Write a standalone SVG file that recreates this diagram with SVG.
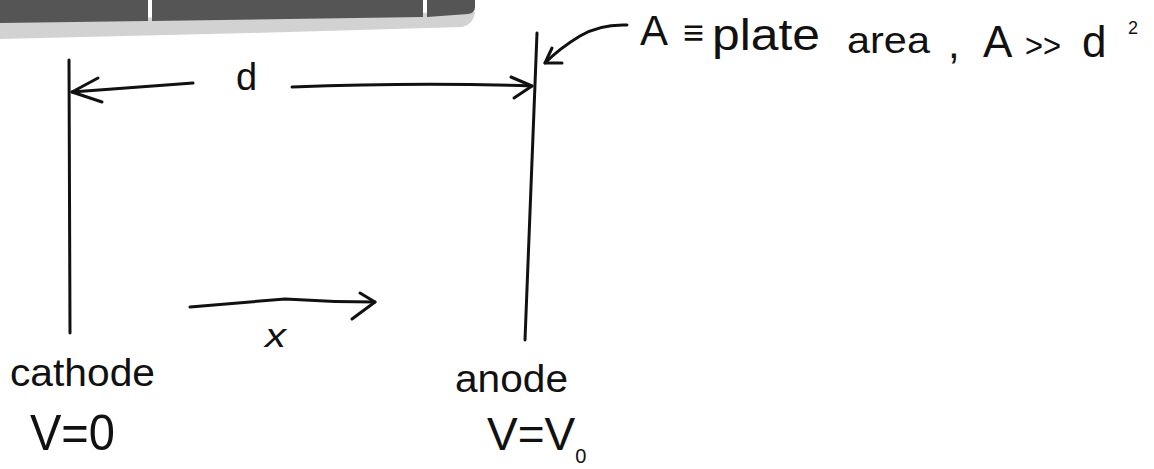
<svg xmlns="http://www.w3.org/2000/svg" width="1154" height="469" viewBox="0 0 1154 469">
<style>
.ln{fill:none;stroke:#111;stroke-width:3;stroke-linecap:round;stroke-linejoin:round}
.t{font-family:"Liberation Sans","DejaVu Sans",sans-serif;fill:#111}
</style>
<rect width="1154" height="469" fill="#fff"/>
<g id="scanbar">
<path d="M0 39 L0 20 L475 12 Q474 24 462 27 L250 33 Z" fill="#d2d2d2"/>
<path d="M0 23 L148 21 L148 0 L0 0 Z" fill="#555"/>
<path d="M152 21 L423 17 L423 0 L152 0 Z" fill="#555"/>
<path d="M427 17 L468 14 Q475 13 475 7 L475 0 L427 0 Z" fill="#555"/>
</g>
<g id="cathode">
<line class="ln" x1="69" y1="60" x2="70" y2="333"/>
<text class="t" x="10" y="386" font-size="38" textLength="145" lengthAdjust="spacingAndGlyphs">cathode</text>
<text class="t" x="30" y="450" font-size="50" textLength="85" lengthAdjust="spacingAndGlyphs">V=0</text>
</g>
<g id="anode">
<line class="ln" x1="537" y1="33" x2="525" y2="340"/>
<text class="t" x="455" y="392" font-size="38" textLength="113" lengthAdjust="spacingAndGlyphs">anode</text>
<text class="t" x="487" y="450" font-size="46">V=V<tspan font-size="20" dy="13">0</tspan></text>
</g>
<g id="area-note">
<text class="t" x="640" y="45" font-size="42">A</text>
<text class="t" x="683" y="45" font-size="36">≡</text>
<text class="t" x="712" y="50" font-size="44" textLength="108" lengthAdjust="spacingAndGlyphs">plate</text>
<text class="t" x="847" y="53" font-size="36" textLength="83" lengthAdjust="spacingAndGlyphs">area</text>
<text class="t" x="948" y="58" font-size="42">,</text>
<text class="t" x="983" y="57" font-size="44">A</text>
<text class="t" x="1025" y="57" font-size="34" textLength="36" lengthAdjust="spacingAndGlyphs">&gt;&gt;</text>
<text class="t" x="1082" y="57" font-size="44">d</text>
<text class="t" x="1128" y="34" font-size="18">2</text>
</g>
<g id="connectors">
<path class="ln" d="M72 92 L193 83"/>
<path class="ln" d="M98 78 L72 92 L102 102"/>
<text class="t" x="236" y="90" font-size="38">d</text>
<path class="ln" d="M292 87 Q420 82 532 86"/>
<path class="ln" d="M511 77 L532 86 L514 98"/>
<path class="ln" d="M627 25 Q600 24 580 36 Q560 48 545 63"/>
<path class="ln" d="M552 48 L545 63 L562 63"/>
<path class="ln" d="M190 307 Q240 303 285 299 Q330 302 375 302"/>
<path class="ln" d="M360 293 L375 302 L352 319"/>
<text class="t" x="265" y="347" font-size="34" textLength="21" lengthAdjust="spacingAndGlyphs" font-style="italic">x</text>
</g>
</svg>
